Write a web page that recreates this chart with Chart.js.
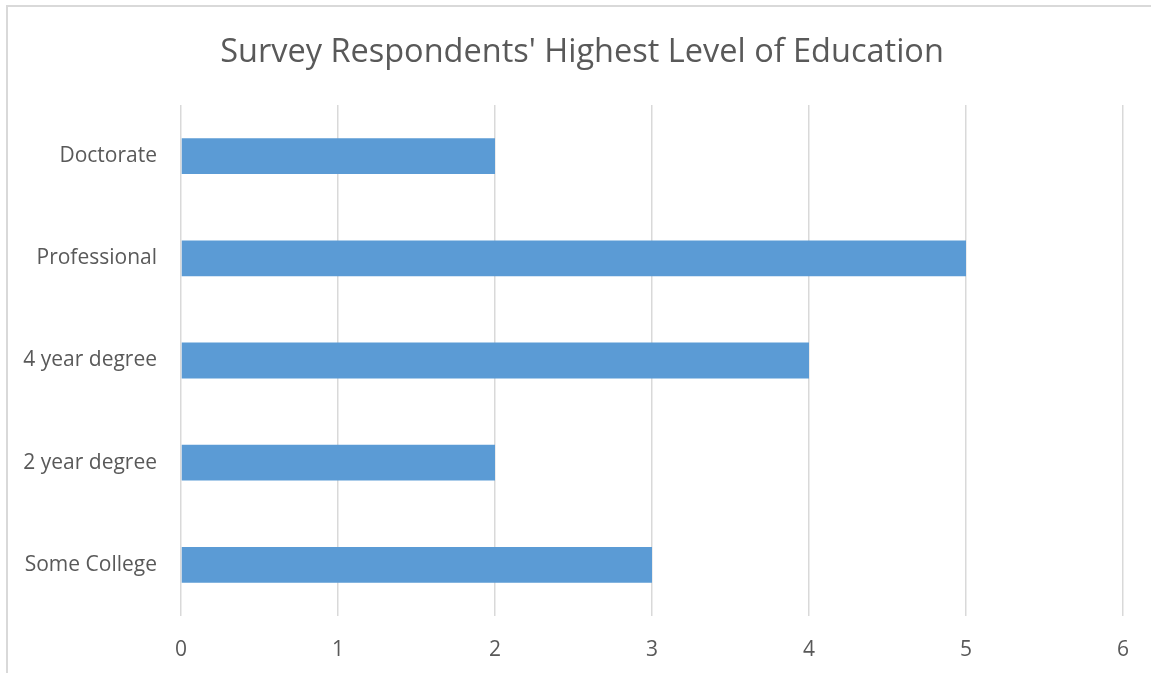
<!DOCTYPE html>
<html>
<head>
<meta charset="utf-8">
<script src="https://cdn.jsdelivr.net/npm/chart.js@4"></script>
<style>
html,body{margin:0;padding:0;background:#fff;overflow:hidden;}
#frame{position:absolute;left:6px;top:5px;width:1300px;height:800px;border:2px solid #d9d9d9;box-sizing:border-box;}
#wrap{position:absolute;left:0;top:0;width:1164px;height:673px;}
</style>
</head>
<body>
<div id="frame"></div>
<div id="wrap"><canvas id="c" width="1164" height="673"></canvas></div>
<script>
const categories = ["Doctorate", "Professional", "4 year degree", "2 year degree", "Some College"];
const counts = [2, 5, 4, 2, 3];
const xTicks = [0, 1, 2, 3, 4, 5, 6];
const titleText = "Survey Respondents' Highest Level of Education";

const FONT = "'Open Sans', 'Liberation Sans', sans-serif";
const TXT = "#595959";

new Chart(document.getElementById('c'), {
  type: 'bar',
  data: {
    labels: categories,
    datasets: [{
      data: counts,
      backgroundColor: '#5b9bd5',
      borderWidth: 0,
      categoryPercentage: 1,
      barPercentage: 0.35
    }]
  },
  options: {
    indexAxis: 'y',
    responsive: false,
    animation: false,
    layout: { padding: { left: 0, right: 0, top: 0, bottom: 0 } },
    plugins: {
      legend: { display: false },
      tooltip: { enabled: false },
      title: {
        display: true,
        text: titleText,
        color: TXT,
        font: { family: FONT, size: 32.5, weight: 'normal' },
        padding: { top: 33, bottom: 33 }
      }
    },
    scales: {
      x: {
        min: 0, max: 6,
        afterBuildTicks: (s) => { s.ticks = xTicks.map(v => ({ value: v })); },
        grid: { color: '#d9d9d9', lineWidth: 1.5, drawTicks: false },
        border: { display: false },
        ticks: { color: TXT, font: { family: FONT, size: 21 }, padding: 21 },
        afterFit: (s) => { s.height = 57; }
      },
      y: {
        grid: { display: false, drawTicks: false },
        border: { display: false },
        ticks: { color: TXT, font: { family: FONT, size: 21 }, padding: 24 },
        afterFit: (s) => { s.width = 181; }
      },
      yRight: {
        type: 'category',
        position: 'right',
        labels: categories,
        grid: { display: false, drawTicks: false },
        border: { display: false },
        ticks: { display: false },
        afterFit: (s) => { s.width = 41; }
      }
    }
  }
});
</script>
</body>
</html>
